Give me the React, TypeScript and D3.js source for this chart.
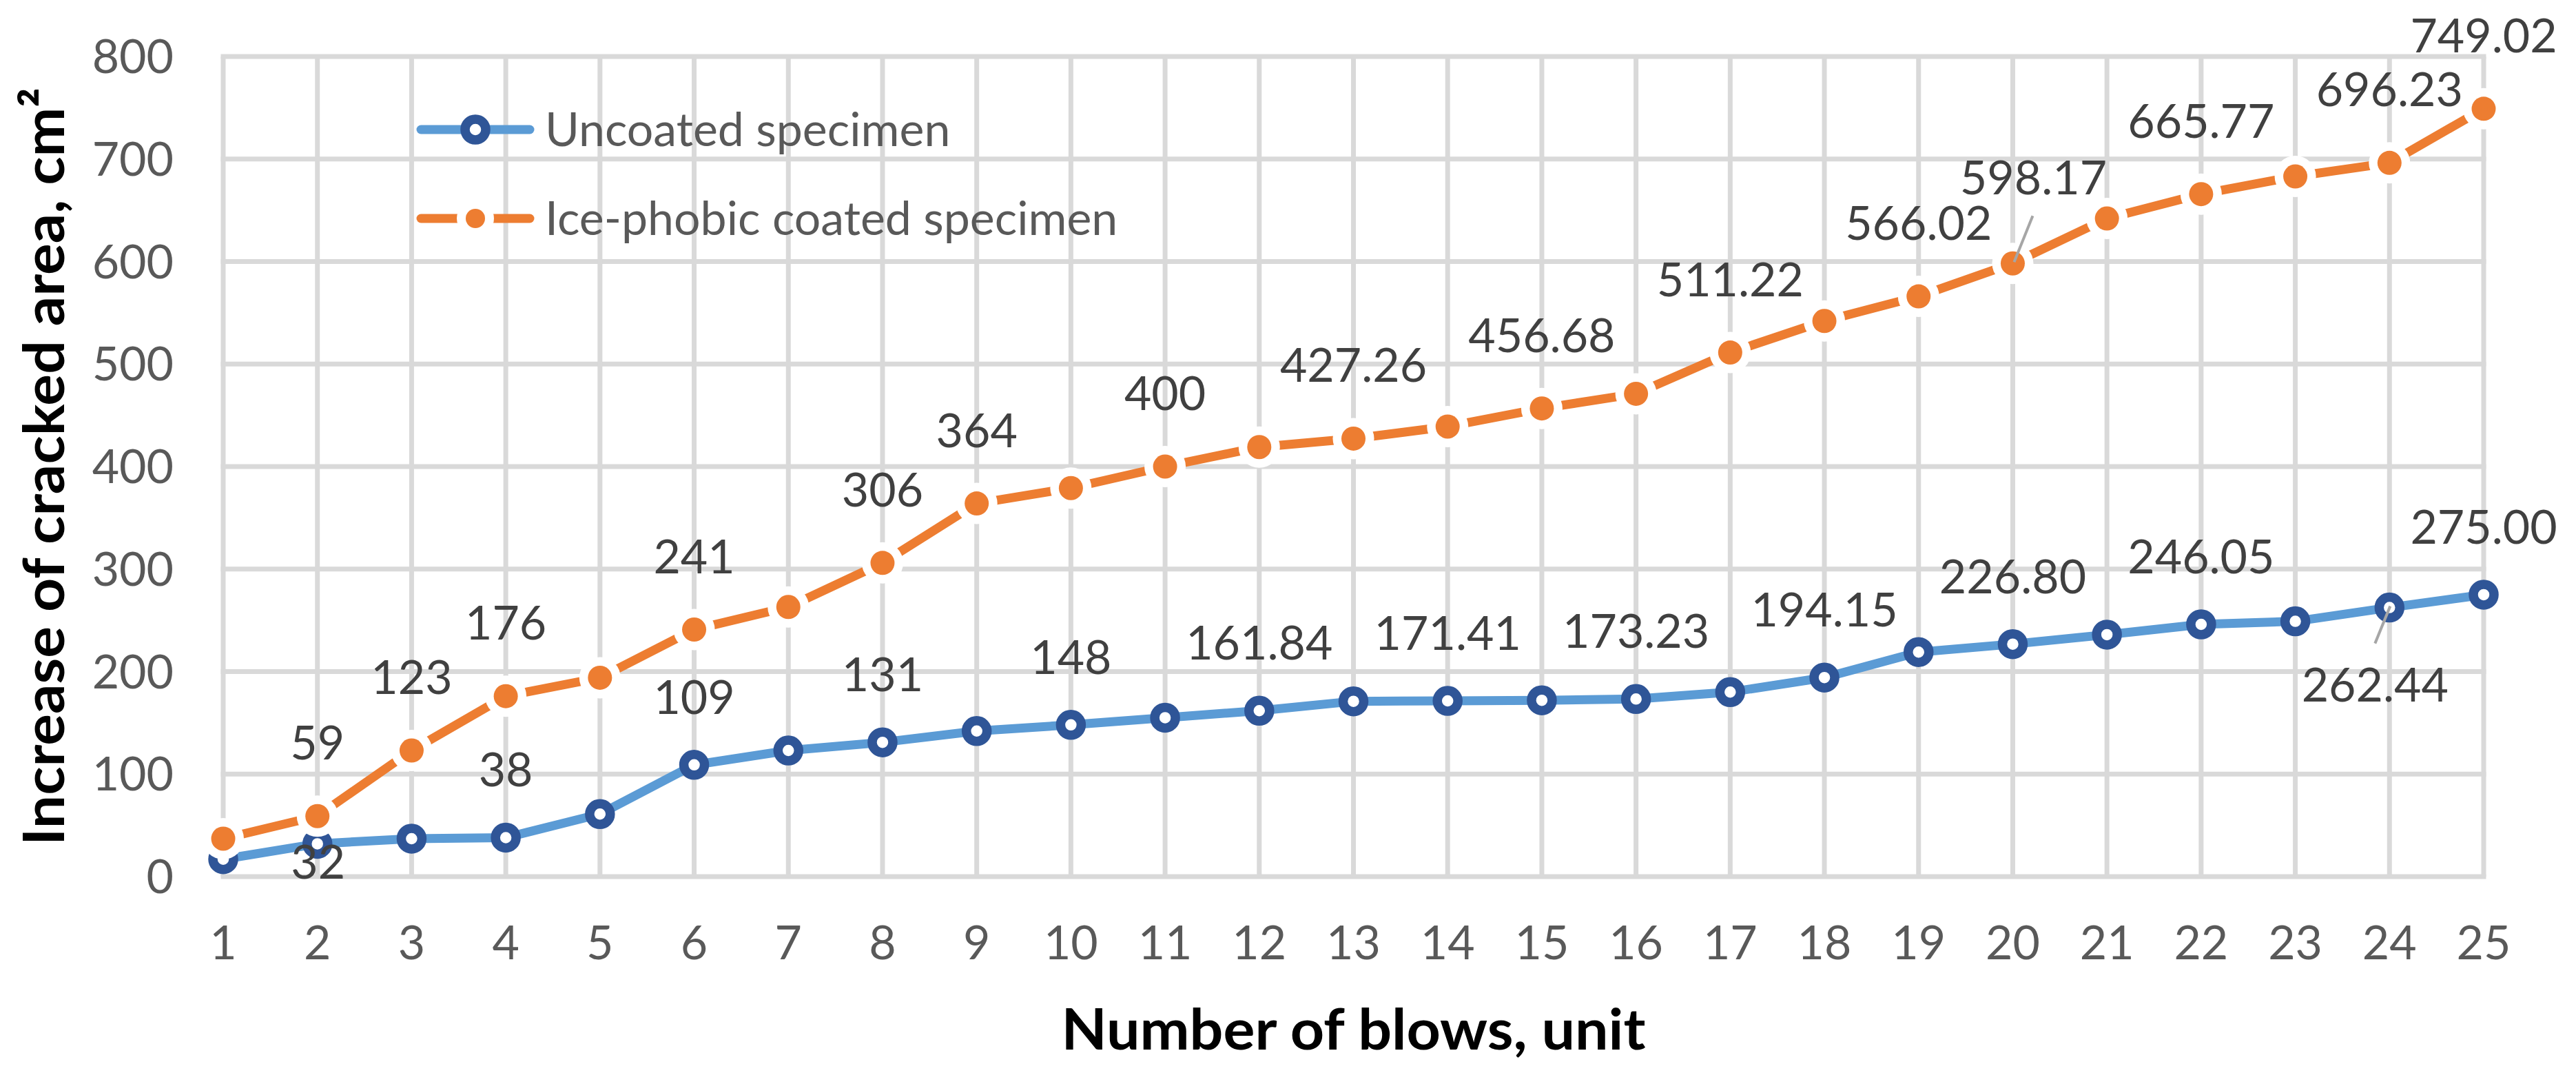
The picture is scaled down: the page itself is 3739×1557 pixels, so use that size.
import React from "react";
import * as d3 from "d3";

// ---- data ----
const blows = d3.range(1, 26);
const uncoated = [17, 32, 37, 38, 61, 109, 123, 131, 142, 148, 155, 161.84, 171, 171.41, 172, 173.23, 180, 194.15, 219, 226.8, 236, 246.05, 249, 262.44, 275.0];
const coated = [37, 59, 123, 176, 194, 241, 263, 306, 364, 379, 400, 419, 427.26, 439, 456.68, 471, 511.22, 542, 566.02, 598.17, 642, 665.77, 683, 696.23, 749.02];
const uncoatedLabels = ["", "32", "", "38", "", "109", "", "131", "", "148", "", "161.84", "", "171.41", "", "173.23", "", "194.15", "", "226.80", "", "246.05", "", "262.44", "275.00"];
const coatedLabels = ["", "59", "123", "176", "", "241", "", "306", "364", "", "400", "", "427.26", "", "456.68", "", "511.22", "", "566.02", "598.17", "", "665.77", "", "696.23", "749.02"];
const yTicks = [0, 100, 200, 300, 400, 500, 600, 700, 800];
const seriesNames = ["Uncoated specimen", "Ice-phobic coated specimen"];
const xTitle = "Number of blows, unit";
const yTitle = "Increase of cracked area, cm²";

// ---- layout / style ----
const W = 3739, H = 1557;
const PL = 324, PR = 3605, PT = 82, PB = 1272;
const BLUE = "#5B9BD5", DARKBLUE = "#2F5597", ORANGE = "#ED7D31";
const GRID = "#D9D9D9";
const FONT = "Lato, 'Open Sans', sans-serif";
const FS = 68;

// label offsets (label centre relative to marker), special cases
const blueOffsetDefault = { dx: 0, dy: -98 };
const orangeOffsetDefault = { dx: 0, dy: -106 };
const blueSpecial: Record<number, { dx: number; dy: number; leader?: boolean }> = {
  1: { dx: 1, dy: 27 },
  23: { dx: -21, dy: 112, leader: true },
};
const orangeSpecial: Record<number, { dx: number; dy: number; leader?: boolean }> = {
  19: { dx: 30, dy: -124, leader: true },
};

export default function App() {
  const x = d3.scaleLinear().domain([1, 25]).range([PL, PR]);
  const y = d3.scaleLinear().domain([0, 800]).range([PB, PT]);
  const line = d3.line<number>().x((_, i) => x(blows[i])).y((d) => y(d));

  const renderLabels = (
    vals: number[],
    labels: string[],
    def: { dx: number; dy: number },
    special: Record<number, { dx: number; dy: number; leader?: boolean }>,
    key: string
  ) =>
    vals.map((v, i) => {
      if (!labels[i]) return null;
      const o = special[i] || def;
      const px = x(blows[i]), py = y(v);
      const cx = px + o.dx, cy = py + o.dy;
      let leader = null;
      if ((o as any).leader) {
        const sy = o.dy < 0 ? cy + 55 : cy - 60;
        leader = <line x1={cx + (o.dy < 0 ? -1 : 0)} y1={sy} x2={px + (o.dy < 0 ? 2 : 1)} y2={py - 2} stroke="#A6A6A6" strokeWidth={4} />;
      }
      return (
        <g key={key + i}>
          {leader}
          <text x={cx} y={cy + 24} textAnchor="middle" fontSize={FS} fill="#404040" fontFamily={FONT}>{labels[i]}</text>
        </g>
      );
    });

  return (
    <svg width={W} height={H} style={{ position: "absolute", left: 0, top: 0, background: "#fff" }}>
      <rect width={W} height={H} fill="#fff" />
      {/* grid */}
      {yTicks.map((t) => (
        <line key={"h" + t} x1={PL - 3.5} x2={PR + 3.5} y1={y(t)} y2={y(t)} stroke={GRID} strokeWidth={7} />
      ))}
      {blows.map((b) => (
        <line key={"v" + b} x1={x(b)} x2={x(b)} y1={PT} y2={PB} stroke={GRID} strokeWidth={7} />
      ))}
      {/* y tick labels */}
      {yTicks.map((t) => (
        <text key={"yt" + t} x={252} y={y(t) + 24} textAnchor="end" fontSize={FS} fill="#595959" fontFamily={FONT}>{t}</text>
      ))}
      {/* x tick labels */}
      {blows.map((b) => (
        <text key={"xt" + b} x={x(b)} y={1392} textAnchor="middle" fontSize={FS} fill="#595959" fontFamily={FONT}>{b}</text>
      ))}
      {/* uncoated series */}
      <path d={line(uncoated) || ""} fill="none" stroke={BLUE} strokeWidth={13} strokeLinejoin="round" strokeLinecap="round" />
      {uncoated.map((v, i) => (
        <circle key={"bm" + i} cx={x(blows[i])} cy={y(v)} r={15} fill="#fff" stroke={DARKBLUE} strokeWidth={13.5} />
      ))}
      {/* coated series */}
      <path d={line(coated) || ""} fill="none" stroke={ORANGE} strokeWidth={13} strokeLinejoin="round" strokeLinecap="round" />
      {coated.map((v, i) => (
        <g key={"om" + i}>
          <circle cx={x(blows[i])} cy={y(v)} r={30} fill="#fff" />
          <circle cx={x(blows[i])} cy={y(v)} r={17.5} fill={ORANGE} />
        </g>
      ))}
      {/* data labels */}
      {renderLabels(uncoated, uncoatedLabels, blueOffsetDefault, blueSpecial, "bl")}
      {renderLabels(coated, coatedLabels, orangeOffsetDefault, orangeSpecial, "ol")}
      {/* legend */}
      <g>
        <line x1={611} x2={769} y1={188} y2={188} stroke={BLUE} strokeWidth={13} strokeLinecap="round" />
        <circle cx={690} cy={188} r={15} fill="#fff" stroke={DARKBLUE} strokeWidth={13.5} />
        <text x={791} y={212} fontSize={FS} fill="#595959" fontFamily={FONT}>{seriesNames[0]}</text>
        <line x1={611} x2={769} y1={317} y2={317} stroke={ORANGE} strokeWidth={13} strokeLinecap="round" />
        <circle cx={690} cy={317} r={27} fill="#fff" />
        <circle cx={690} cy={317} r={14} fill={ORANGE} />
        <text x={791} y={341} fontSize={FS} fill="#595959" fontFamily={FONT}>{seriesNames[1]}</text>
      </g>
      {/* axis titles */}
      <text x={(PL + PR) / 2} y={1523} textAnchor="middle" fontSize={82} fontWeight="bold" fill="#000" fontFamily={FONT}
        textLength={848} lengthAdjust="spacingAndGlyphs">{xTitle}</text>
      <text transform={`translate(93, ${(PT + PB) / 2}) rotate(-90)`} textAnchor="middle" fontSize={82} fontWeight="bold" fill="#000" fontFamily={FONT}
        textLength={1100} lengthAdjust="spacingAndGlyphs">{yTitle}</text>
    </svg>
  );
}
